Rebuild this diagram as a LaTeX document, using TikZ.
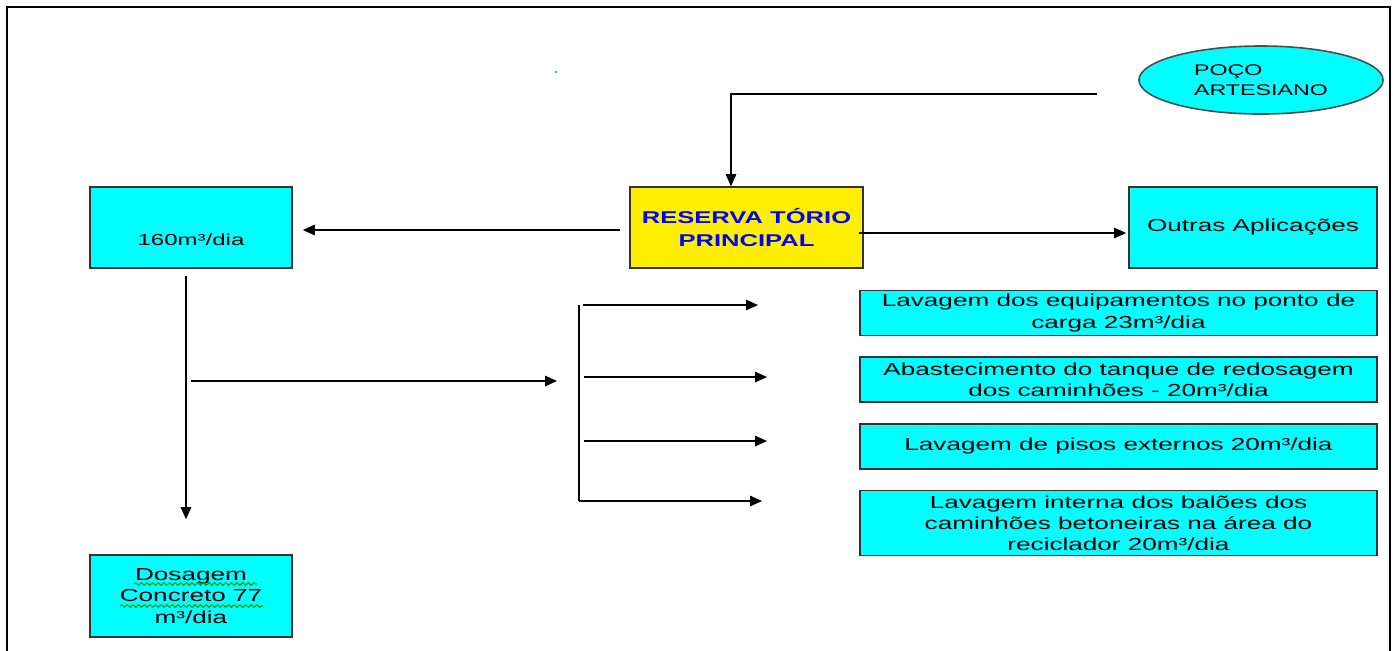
\documentclass[tikz,border=0pt]{standalone}
\usepackage{fontspec}
\setmainfont[FakeStretch=1.5]{Liberation Sans}
\usetikzlibrary{arrows.meta,positioning,shapes.geometric,decorations.pathmorphing}

\definecolor{boxcyan}{RGB}{0,255,255}
\definecolor{boxyellow}{RGB}{255,240,0}

\begin{document}
\begin{tikzpicture}[x=0.01cm,y=-0.01cm,>={Triangle[length=3.4pt,width=3pt]},
  node distance=0.2cm,
  flow/.style={->,line width=0.35pt},
  cyan node/.style={rectangle,fill=boxcyan,draw=black!80,line width=0.45pt,inner sep=1pt,align=center,font=\fontsize{4.95}{6}\selectfont},
  use node/.style={cyan node,minimum width=5.17cm,minimum height=0.45cm},
  main node/.style={rectangle,fill=boxyellow,draw=black!80,line width=0.45pt,align=center,minimum width=2.27cm,minimum height=0.81cm,text=blue,font=\fontsize{4.85}{6.3}\selectfont\bfseries},
  well node/.style={ellipse,fill=boxcyan,draw=black!70,line width=0.45pt,minimum width=2.44cm,minimum height=0.68cm,inner sep=0pt,align=left,font=\fontsize{4.4}{5.7}\selectfont},
  wavy/.style={green!60!black,line width=0.3pt,decorate,decoration={snake,amplitude=0.35pt,segment length=1.6pt}}]

  \useasboundingbox (0,0) rectangle (1393,650);
  \draw[line width=0.65pt] (7,665) -- (7,7) -- (1390,7) -- (1390,665);
  \fill[boxcyan!70!blue] (555,71) rectangle (557,73);

  \node[well node] (well) at (1261,80) {POÇO\\ARTESIANO};
  \node[main node] (res) at (746.5,227.5) {RESERVA TÓRIO\\PRINCIPAL};
  \node[cyan node,minimum width=2.02cm,minimum height=0.81cm,font=\fontsize{4.55}{6}\selectfont] (d160) at (191,227.5) {\strut\\160m³/dia};
  \node[cyan node,minimum width=2.48cm,minimum height=0.81cm] (outras) at (1253,227.5) {Outras Aplicações};
  \node[cyan node,minimum width=2.02cm,minimum height=0.82cm] (dose) at (191,596) {Dosagem\\Concreto 77\\m³/dia};

  \node[use node] (u1) at (1118.5,313) {Lavagem dos equipamentos no ponto de\\carga 23m³/dia};
  \node[use node] (u2) [below=of u1] {Abastecimento do tanque de redosagem\\dos caminhões - 20m³/dia};
  \node[use node] (u3) [below=of u2] {Lavagem de pisos externos 20m³/dia};
  \node[use node,minimum height=0.65cm,inner ysep=0pt] (u4) [below=of u3] {Lavagem interna dos balões dos\\caminhões betoneiras na área do\\reciclador 20m³/dia};

  % spell check marks
  \draw[wavy] (134,584) -- (257,584);
  \draw[wavy] (120,606) -- (263,606);

  \coordinate (wellout) at (1097,94);
  \draw[flow] (wellout) -| ([xshift=-0.155cm]res.north);
  \draw[flow,shorten <=0.09cm,shorten >=0.1cm] ([yshift=-0.025cm]res.west) -- ([yshift=-0.025cm]d160.east);
  \draw[flow,shorten <=-0.05cm,shorten >=0.02cm] ([yshift=-0.055cm]res.east) -- ([yshift=-0.055cm]outras.west);
  \draw[flow,shorten <=0.07cm,shorten >=0.35cm] ([xshift=-0.05cm]d160.south) -- ([xshift=-0.05cm]dose.north);

  \coordinate (split) at (191,381);
  \coordinate (busin) at (557,381);
  \draw[flow] (split) -- (busin);

  \coordinate (bustop) at (579,305);
  \coordinate (busbot) at (579,501);
  \draw[line width=0.35pt] (bustop) -- (busbot);
  \foreach \i/\y/\s/\e in {1/305/583/758,2/377/584/767,3/441/584/767,4/501/579/762}{
    \coordinate (out\i) at (\s,\y);
    \coordinate (tip\i) at (\e,\y);
    \draw[flow] (out\i) -- (tip\i);
  }

\end{tikzpicture}
\end{document}
